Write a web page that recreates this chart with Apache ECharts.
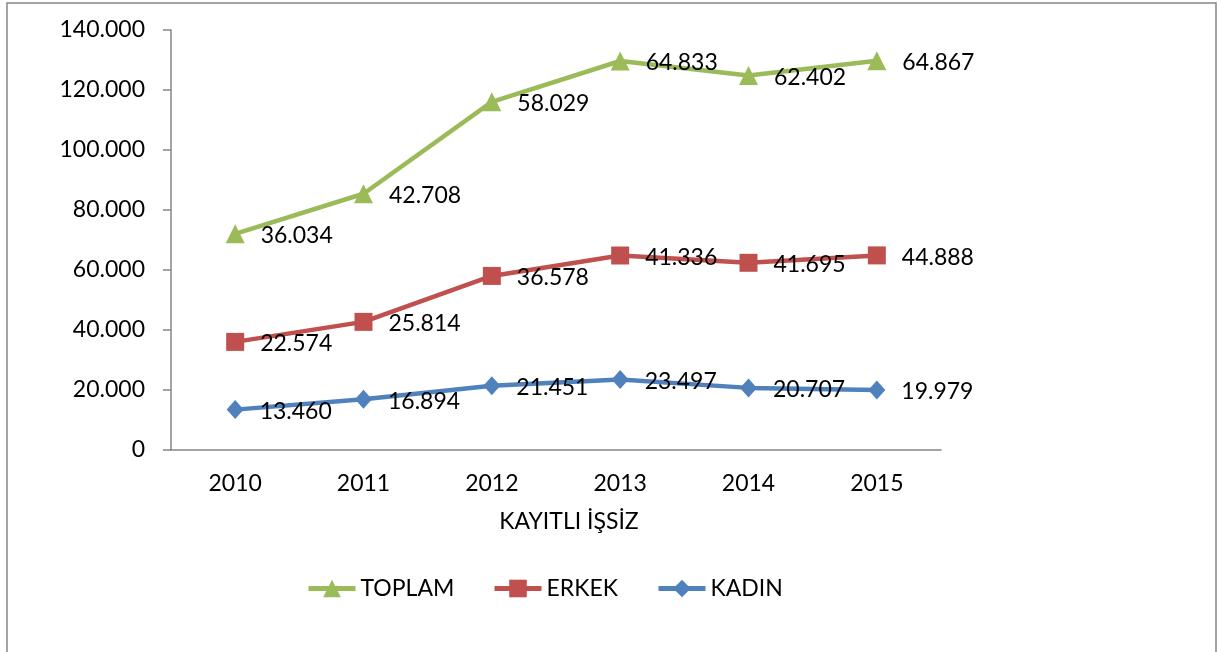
<!DOCTYPE html>
<html>
<head>
<meta charset="utf-8">
<script src="https://cdn.jsdelivr.net/npm/echarts@6/dist/echarts.min.js"></script>
<style>
    html, body { margin: 0; padding: 0; background: #fff; }
    #chart { width: 1221px; height: 652px; }
</style>
</head>
<body>
<div id="chart"></div>
<script>
// kategoriler (yıllar)
var years = ['2010', '2011', '2012', '2013', '2014', '2015'];
// seri değerleri
var kadin = [13460, 16894, 21451, 23497, 20707, 19979];
var erkek = [22574, 25814, 36578, 41336, 41695, 44888];
var toplam = [36034, 42708, 58029, 64833, 62402, 64867];
// y ekseni
var yMin = 0;
var yMax = 140000;
var yStep = 20000;
// lejant sırası
var legendNames = ['TOPLAM', 'ERKEK', 'KADIN'];

var FONT = 'Lato';
var GRAY = '#868686';

// 140000 -> "140.000"
function fmt(v) {
    return String(v).replace(/\B(?=(\d{3})+(?!\d))/g, '.');
}

function makeSeries(name, data, color, symbol, size) {
    return {
        name: name,
        type: 'line',
        stack: 'total',
        data: data,
        symbol: symbol,
        symbolSize: size,
        lineStyle: { color: color, width: 4.5 },
        itemStyle: { color: color },
        label: {
            show: true,
            position: 'right',
            distance: 16,
            offset: [0, 2],
            color: '#000',
            fontFamily: FONT,
            fontSize: 23,
            formatter: function (p) { return fmt(p.value); }
        },
        emphasis: { disabled: true },
        animation: false
    };
}

// her lejant öğesi ayrı konumlanıyor (Calibri genişliğine yakın olsun diye)
var legendLeft = [301, 487, 651];
var legends = legendNames.map(function (n, i) {
    return {
        data: [n],
        left: legendLeft[i],
        top: 572,
        itemWidth: 47,
        itemHeight: 22,
        lineStyle: { width: 5 },
        textStyle: { color: '#000', fontSize: 23, fontFamily: FONT },
        selectedMode: false
    };
});

var chart = echarts.init(document.getElementById('chart'));
chart.setOption({
    animation: false,
    textStyle: { fontFamily: FONT },
    graphic: [{
        type: 'rect',
        shape: { x: 7, y: 3, width: 1209, height: 700 },
        style: { fill: 'none', stroke: GRAY, lineWidth: 1.5 },
        silent: true
    }],
    legend: legends,
    grid: { left: 171, right: 280, top: 30, bottom: 202 },
    xAxis: {
        type: 'category',
        data: years,
        name: 'KAYITLI İŞSİZ',
        nameLocation: 'middle',
        nameGap: 60,
        nameTextStyle: { color: '#000', fontSize: 23, fontFamily: FONT, padding: [0, 0, 0, 26] },
        axisLine: { lineStyle: { color: GRAY, width: 1.5 } },
        axisTick: { length: 8, lineStyle: { color: GRAY, width: 1.5 } },
        axisLabel: { color: '#000', fontSize: 23, fontFamily: FONT, margin: 22 },
        splitLine: { show: false }
    },
    yAxis: {
        type: 'value',
        min: yMin,
        max: yMax,
        interval: yStep,
        axisLine: { show: true, lineStyle: { color: GRAY, width: 1.5 } },
        axisTick: { show: true, length: 8, lineStyle: { color: GRAY, width: 1.5 } },
        axisLabel: { color: '#000', fontSize: 23, fontFamily: FONT, margin: 26, formatter: fmt },
        splitLine: { show: false }
    },
    series: [
        makeSeries('KADIN', kadin, '#4F81BD', 'diamond', [17, 19]),
        makeSeries('ERKEK', erkek, '#C0504D', 'rect', 18),
        makeSeries('TOPLAM', toplam, '#9BBB59', 'triangle', 19)
    ]
});
</script>
</body>
</html>
